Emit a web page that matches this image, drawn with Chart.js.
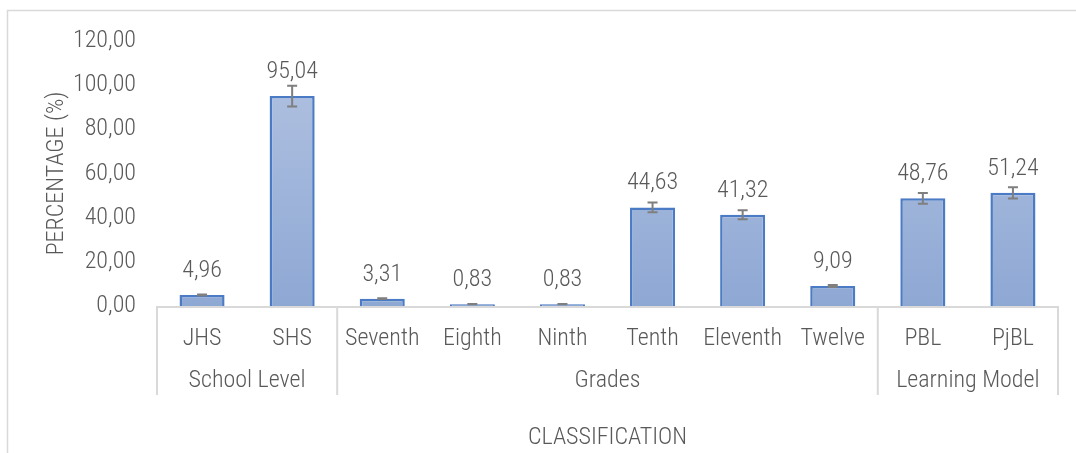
<!DOCTYPE html>
<html>
<head>
<meta charset="utf-8">
<script src="https://cdn.jsdelivr.net/npm/chart.js@4"></script>
<style>
  html, body { margin: 0; padding: 0; background: #fff; }
  #wrap { width: 1076px; height: 453px; }
</style>
</head>
<body>
<div id="wrap"><canvas id="barChart"></canvas></div>
<script>
// Data
const categories = ["JHS", "SHS", "Seventh", "Eighth", "Ninth", "Tenth", "Eleventh", "Twelve", "PBL", "PjBL"];
const values = [4.96, 95.04, 3.31, 0.83, 0.83, 44.63, 41.32, 9.09, 48.76, 51.24];
const errors = [0.25, 4.75, 0.17, 0.04, 0.04, 2.23, 2.07, 0.45, 2.44, 2.56];
const groups = ["School Level", "Grades", "Learning Model"];
const groupSizes = [2, 6, 2];
const yTicks = [0, 20, 40, 60, 80, 100, 120];

const FONT = '"Roboto Condensed", "Liberation Sans Narrow", "Arial Narrow", sans-serif';
const WEIGHT = "300";
const TEXT = "#595959";
const LINE = "#d9d9d9";

const fmt = (v, d) => v.toFixed(d).replace(".", ",");
const fontObj = { family: FONT, size: 24, weight: WEIGHT };

// frame, group labels, separators
const layoutPlugin = {
  id: "layoutPlugin",
  beforeDraw(chart) {
    const c = chart.ctx;
    c.save();
    c.fillStyle = "#fff";
    c.fillRect(0, 0, chart.width, chart.height);
    c.strokeStyle = LINE;
    c.lineWidth = 1.5;
    c.strokeRect(7.5, 10.5, chart.width + 20, chart.height + 20);
    c.restore();
  },
  afterDraw(chart) {
    const c = chart.ctx;
    const x = chart.scales.x;
    const area = chart.chartArea;
    const half = (x.getPixelForValue(1) - x.getPixelForValue(0)) / 2;
    c.save();
    c.strokeStyle = LINE;
    c.lineWidth = 2;
    c.beginPath();
    c.moveTo(area.left, area.bottom + 1);
    c.lineTo(area.right, area.bottom + 1);
    let idx = 0;
    const bounds = [x.getPixelForValue(0) - half];
    groupSizes.forEach(n => {
      idx += n;
      bounds.push(x.getPixelForValue(idx - 1) + half);
    });
    bounds.forEach(b => {
      c.moveTo(b, area.bottom);
      c.lineTo(b, area.bottom + 89);
    });
    c.stroke();
    c.fillStyle = TEXT;
    c.font = WEIGHT + " 24px " + FONT;
    c.textAlign = "center";
    c.textBaseline = "middle";
    groups.forEach((g, i) => {
      c.fillText(g, (bounds[i] + bounds[i + 1]) / 2, area.bottom + 75);
    });
    c.restore();
  }
};

// error bars + value labels
const errorPlugin = {
  id: "errorPlugin",
  afterDatasetsDraw(chart) {
    const c = chart.ctx;
    const x = chart.scales.x;
    const y = chart.scales.y;
    c.save();
    c.strokeStyle = "#7f7f7f";
    c.lineWidth = 2;
    values.forEach((v, i) => {
      const px = x.getPixelForValue(i);
      const top = y.getPixelForValue(v + errors[i]);
      const bot = y.getPixelForValue(v - errors[i]);
      c.beginPath();
      c.moveTo(px, top); c.lineTo(px, bot);
      c.moveTo(px - 5, top); c.lineTo(px + 5, top);
      c.moveTo(px - 5, bot); c.lineTo(px + 5, bot);
      c.stroke();
    });
    c.fillStyle = TEXT;
    c.font = WEIGHT + " 24px " + FONT;
    c.textAlign = "center";
    c.textBaseline = "middle";
    values.forEach((v, i) => {
      c.fillText(fmt(v, 2), x.getPixelForValue(i), y.getPixelForValue(v) - 24);
    });
    c.restore();
  }
};

const ctx = document.getElementById("barChart").getContext("2d");
new Chart(ctx, {
  type: "bar",
  data: {
    labels: categories,
    datasets: [{
      data: values,
      backgroundColor: (context) => {
        const area = context.chart.chartArea;
        if (!area) return "#9db2d9";
        const g = context.chart.ctx.createLinearGradient(0, area.top, 0, area.bottom);
        g.addColorStop(0, "#b4c4e2");
        g.addColorStop(1, "#8ea8d4");
        return g;
      },
      borderColor: "#4a7bc4",
      borderWidth: 2.5,
      borderSkipped: "bottom",
      barPercentage: 0.5,
      categoryPercentage: 1
    }]
  },
  options: {
    responsive: true,
    maintainAspectRatio: false,
    animation: false,
    layout: { padding: { left: 30, right: 18, top: 41, bottom: 0 } },
    plugins: {
      legend: { display: false },
      tooltip: { enabled: false }
    },
    scales: {
      x: {
        grid: { display: false, drawTicks: false },
        border: { display: false },
        ticks: { color: TEXT, font: fontObj, padding: 19, maxRotation: 0 },
        title: {
          display: true,
          text: "CLASSIFICATION",
          color: TEXT,
          font: fontObj,
          padding: { top: 0, bottom: 1 }
        },
        afterFit: (s) => { s.height = 147; }
      },
      y: {
        min: 0,
        max: 120,
        afterBuildTicks: (s) => { s.ticks = yTicks.map(v => ({ value: v })); },
        grid: { display: false, drawTicks: false },
        border: { display: false },
        ticks: {
          color: TEXT,
          font: fontObj,
          padding: 21,
          callback: (v) => fmt(v, 2)
        },
        title: {
          display: true,
          text: "PERCENTAGE (%)",
          color: TEXT,
          font: fontObj,
          padding: { top: 13, bottom: 0 }
        },
        afterFit: (s) => { s.width = 127; }
      }
    }
  },
  plugins: [layoutPlugin, errorPlugin]
});
</script>
</body>
</html>
